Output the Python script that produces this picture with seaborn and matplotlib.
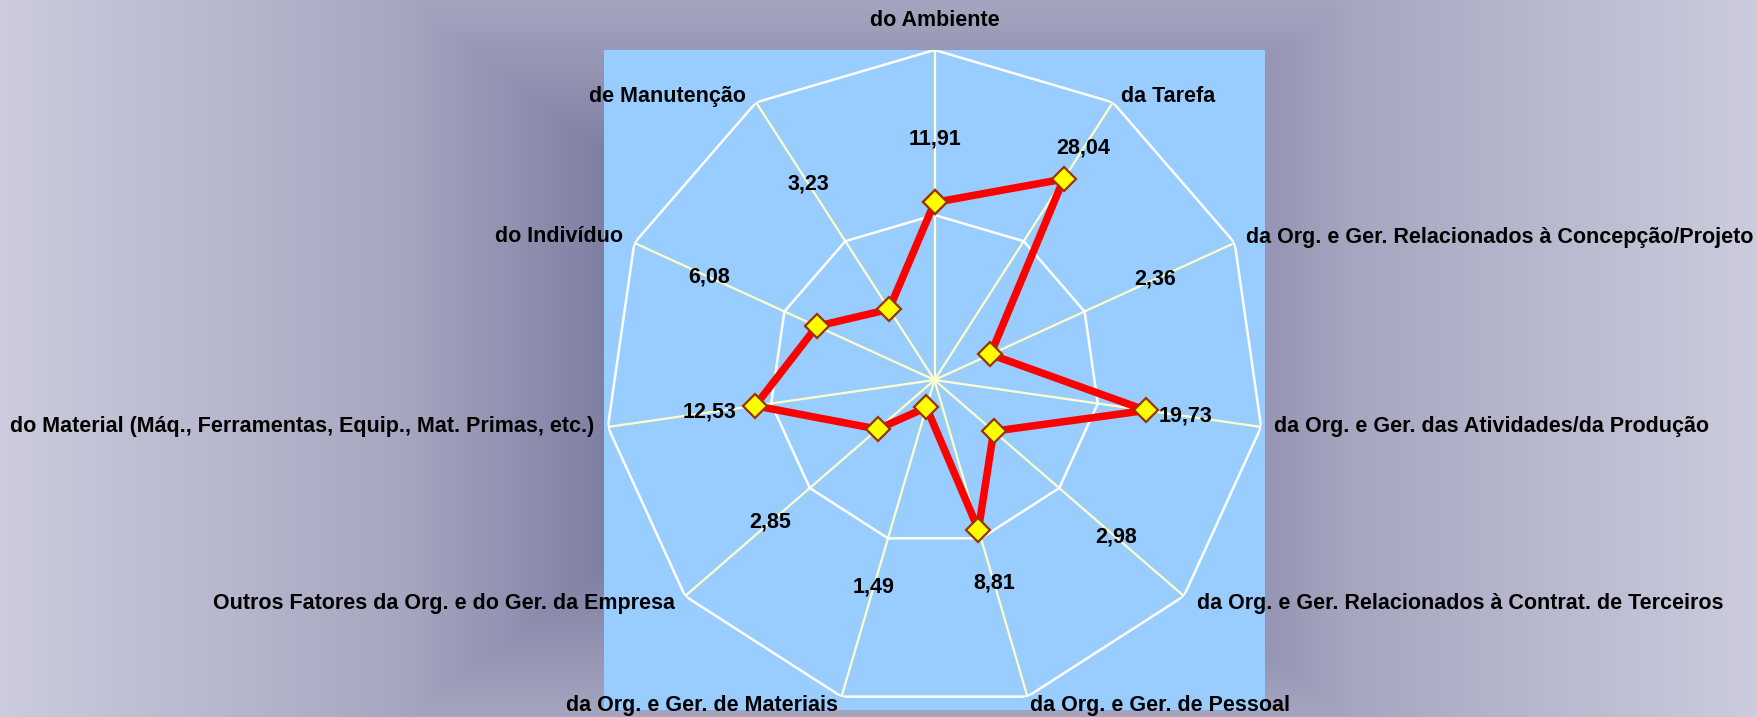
import numpy as np
import matplotlib
matplotlib.use("Agg")
import matplotlib.pyplot as plt
from matplotlib.ticker import NullLocator
import seaborn as sns

# ---------------- data ----------------
categories = [
    "do Ambiente",
    "da Tarefa",
    "da Org. e Ger. Relacionados à Concepção/Projeto",
    "da Org. e Ger. das Atividades/da Produção",
    "da Org. e Ger. Relacionados à Contrat. de Terceiros",
    "da Org. e Ger. de Pessoal",
    "da Org. e Ger. de Materiais",
    "Outros Fatores da Org. e do Ger. da Empresa",
    "do Material (Máq., Ferramentas, Equip., Mat. Primas, etc.)",
    "do Indivíduo",
    "de Manutenção",
]
values = [11.91, 28.04, 2.36, 19.73, 2.98, 8.81, 1.49, 2.85, 12.53, 6.08, 3.23]
value_labels = ["11,91", "28,04", "2,36", "19,73", "2,98", "8,81",
                "1,49", "2,85", "12,53", "6,08", "3,23"]
ring_levels = [10, 100]
r_min, r_max = 1, 100

# ---------------- layout ----------------
# radial position of value labels as a fraction of the outer radius
label_frac = [0.73, 0.836, 0.734, 0.768, 0.727, 0.642, 0.655, 0.659, 0.69, 0.75, 0.706]
# category label offsets (px right, px down) from the outer vertex, and alignment
cat_offsets = [(0, -30), (8, -6), (11, -5), (13, 0), (13, 7), (3, 9),
               (-4, 9), (-10, 7), (-14, 0), (-11, -6), (-10, -6)]
cat_ha = ["center", "left", "left", "left", "left", "left",
          "right", "right", "right", "right", "right"]

sns.set_theme(style="white")
plt.rcParams["font.family"] = ["Liberation Sans", "DejaVu Sans"]
FS = 15.5

W, H = 1757, 717
fig = plt.figure(figsize=(W / 100, H / 100), dpi=100)

# background gradient (rectangular, dark in the middle)
yy, xx = np.mgrid[0:H, 0:W]
t = np.maximum(np.abs(xx - 878) / 878.0, np.abs(yy - 358) / 667.0).clip(0, 1)
stops = [0.0, 0.317, 0.54, 1.0]
R = np.interp(t, stops, [100, 128, 166, 204])
G = np.interp(t, stops, [100, 128, 166, 204])
B = np.interp(t, stops, [150, 165, 192, 222])
img = np.dstack([R, G, B]) / 255.0
bg = fig.add_axes([0, 0, 1, 1])
bg.imshow(img, aspect="auto", interpolation="nearest")
bg.set_axis_off()

# plot area
pos = [604 / W, 1 - 710 / H, 661 / W, 660 / H]
pa = fig.add_axes(pos)
pa.set_facecolor("#99CCFF")
pa.set_xticks([]); pa.set_yticks([])
for s in pa.spines.values():
    s.set_visible(False)

ax = fig.add_axes(pos, projection="polar")
ax.patch.set_alpha(0)
ax.set_theta_zero_location("N")
ax.set_theta_direction(-1)
ax.set_rscale("log")
ax.set_rlim(r_min, r_max)

n = len(categories)
theta = np.arange(n) * 2 * np.pi / n
theta_closed = np.append(theta, 2 * np.pi)

ax.set_xticks(theta)
ax.set_xticklabels([])
ax.set_yticks([])
ax.yaxis.set_minor_locator(NullLocator())
ax.xaxis.grid(True, color="#FFFFCC", linewidth=1.6)
ax.yaxis.grid(False)
ax.spines["polar"].set_visible(False)

for lvl in ring_levels:
    ax.plot(theta_closed, [lvl] * (n + 1), color="white", linewidth=1.8, zorder=2)

vals_closed = values + values[:1]
sns.lineplot(x=theta_closed, y=vals_closed, ax=ax, sort=False,
             color="#FF0000", linewidth=5.4, marker="D", markersize=12.5,
             markerfacecolor="#FFFF00", markeredgecolor="#993300",
             markeredgewidth=1.6, zorder=5)

for k in range(n):
    r_lab = 10 ** (np.log10(r_min) + label_frac[k] * (np.log10(r_max) - np.log10(r_min)))
    ax.text(theta[k], r_lab, value_labels[k], ha="center", va="center",
            fontsize=FS, fontweight="bold", color="black", zorder=6)
    dx, dy = cat_offsets[k]
    ax.annotate(categories[k], xy=(theta[k], r_max), xycoords="data",
                xytext=(dx * 0.72, -dy * 0.72), textcoords="offset points",
                ha=cat_ha[k], va="center", fontsize=FS, fontweight="bold",
                color="black", annotation_clip=False, zorder=6)

fig.savefig("out.png", dpi=100)
